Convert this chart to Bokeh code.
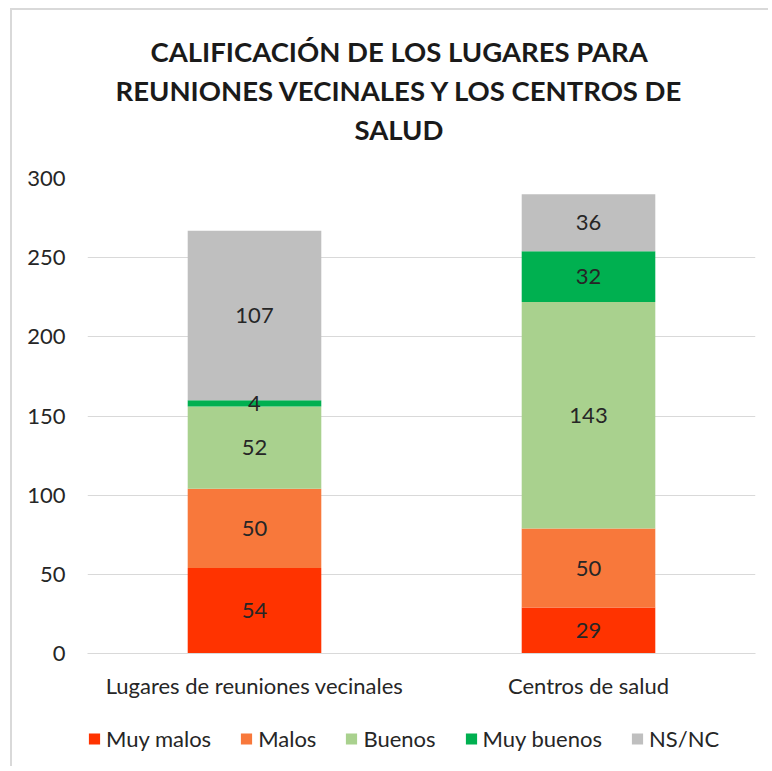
from bokeh.plotting import figure
from bokeh.layouts import column
from bokeh.models import (ColumnDataSource, FactorRange, Range1d, LabelSet,
                          Legend, LegendItem, FixedTicker, Title)
from bokeh.core.properties import value
from bokeh.embed import file_html
from bokeh.resources import INLINE

# ---- data ----
categories = ["Lugares de reuniones vecinales", "Centros de salud"]
series = ["Muy malos", "Malos", "Buenos", "Muy buenos", "NS/NC"]
muy_malos = [54, 29]
malos = [50, 50]
buenos = [52, 143]
muy_buenos = [4, 32]
ns_nc = [107, 36]
y_ticks = [0, 50, 100, 150, 200, 250, 300]
title_lines = ["CALIFICACIÓN DE LOS LUGARES PARA",
               "REUNIONES VECINALES Y LOS CENTROS DE",
               "SALUD"]

colors = ["#FF3300", "#F8783B", "#A9D18E", "#00B050", "#BFBFBF"]
FONT = "Lato"
TXT = "#262626"
FS = "22px"

values = [muy_malos, malos, buenos, muy_buenos, ns_nc]
data = {"cat": categories}
for name, vals in zip(series, values):
    data[name] = vals
source = ColumnDataSource(data)

p = figure(x_range=FactorRange(*categories), y_range=Range1d(0, 300),
           frame_width=668, frame_height=475,
           min_border_left=72, min_border_right=16,
           min_border_top=168, min_border_bottom=57,
           output_backend="svg", toolbar_location=None, tools="")

renderers = p.vbar_stack(series, x="cat", width=0.4, source=source,
                         color=colors, line_color=None)

# value labels in segment centers
lx, ly, lt = [], [], []
for i, cat in enumerate(categories):
    base = 0
    for vals in values:
        v = vals[i]
        lx.append(cat)
        ly.append(base + v / 2)
        lt.append(str(v))
        base += v
lab_src = ColumnDataSource(dict(x=lx, y=ly, t=lt))
p.add_layout(LabelSet(x="x", y="y", text="t", source=lab_src,
                      text_align="center", text_baseline="middle",
                      text_font=value(FONT), text_font_size=value(FS),
                      text_color=TXT))

# axes
p.yaxis.ticker = FixedTicker(ticks=y_ticks)
p.yaxis.axis_line_color = None
p.yaxis.major_tick_line_color = None
p.yaxis.minor_tick_line_color = None
p.yaxis.major_tick_in = 0
p.yaxis.major_tick_out = 0
p.yaxis.major_label_standoff = 22
p.yaxis.major_label_text_font = FONT
p.yaxis.major_label_text_font_size = FS
p.yaxis.major_label_text_color = TXT

p.xaxis.axis_line_color = "#D9D9D9"
p.xaxis.axis_line_width = 1
p.xaxis.major_tick_line_color = None
p.xaxis.minor_tick_line_color = None
p.xaxis.major_tick_in = 0
p.xaxis.major_tick_out = 0
p.xaxis.major_label_standoff = 18
p.xaxis.major_label_text_font = FONT
p.xaxis.major_label_text_font_size = FS
p.xaxis.major_label_text_color = TXT

p.xgrid.grid_line_color = None
p.ygrid.grid_line_color = "#D9D9D9"
p.ygrid.grid_line_width = 1
p.outline_line_color = None
p.x_range.range_padding = 0
p.x_range.group_padding = 0

# spacer between the frame and the title block
p.add_layout(Title(text=" ", text_font=FONT, text_font_size="24px", standoff=0), "above")
# title lines, stacked outward from the frame (last line first)
offsets = [63, 28, 267]
for line, off in reversed(list(zip(title_lines, offsets))):
    p.add_layout(Title(text=line, align="left", offset=off,
                       text_font=FONT, text_font_style="bold",
                       text_font_size="27.5px", text_color="#1a1a1a",
                       standoff=4), "above")

# ---- legend strip (same stacked data, zero-width bars far out of view; only its legend shows) ----
leg = figure(x_range=FactorRange(*categories), y_range=Range1d(-1000, -999),
             frame_width=681, frame_height=56,
             min_border_left=75, min_border_right=0,
             min_border_top=0, min_border_bottom=0,
             x_axis_location=None, y_axis_location=None,
             output_backend="svg", toolbar_location=None, tools="")
leg.grid.visible = False
leg.outline_line_color = None
leg_renderers = leg.vbar_stack(series, x="cat", width=0, source=source,
                               color=colors, line_color=None)
legend = Legend(items=[LegendItem(label=s, renderers=[r]) for s, r in zip(series, leg_renderers)],
                orientation="horizontal", location="center_left",
                padding=0, margin=0, spacing=28, label_standoff=5,
                glyph_width=14, glyph_height=14, label_height=20,
                label_text_font=FONT, label_text_font_size=FS,
                label_text_color=TXT, border_line_color=None,
                background_fill_alpha=0)
leg.add_layout(legend, "center")

layout = column(p, leg, spacing=0)
layout.styles = {"margin-left": "10px", "margin-top": "8px",
                 "border-left": "2px solid #D9D9D9", "border-top": "2px solid #D9D9D9"}

open("out.html", "w").write(file_html(layout, INLINE))
